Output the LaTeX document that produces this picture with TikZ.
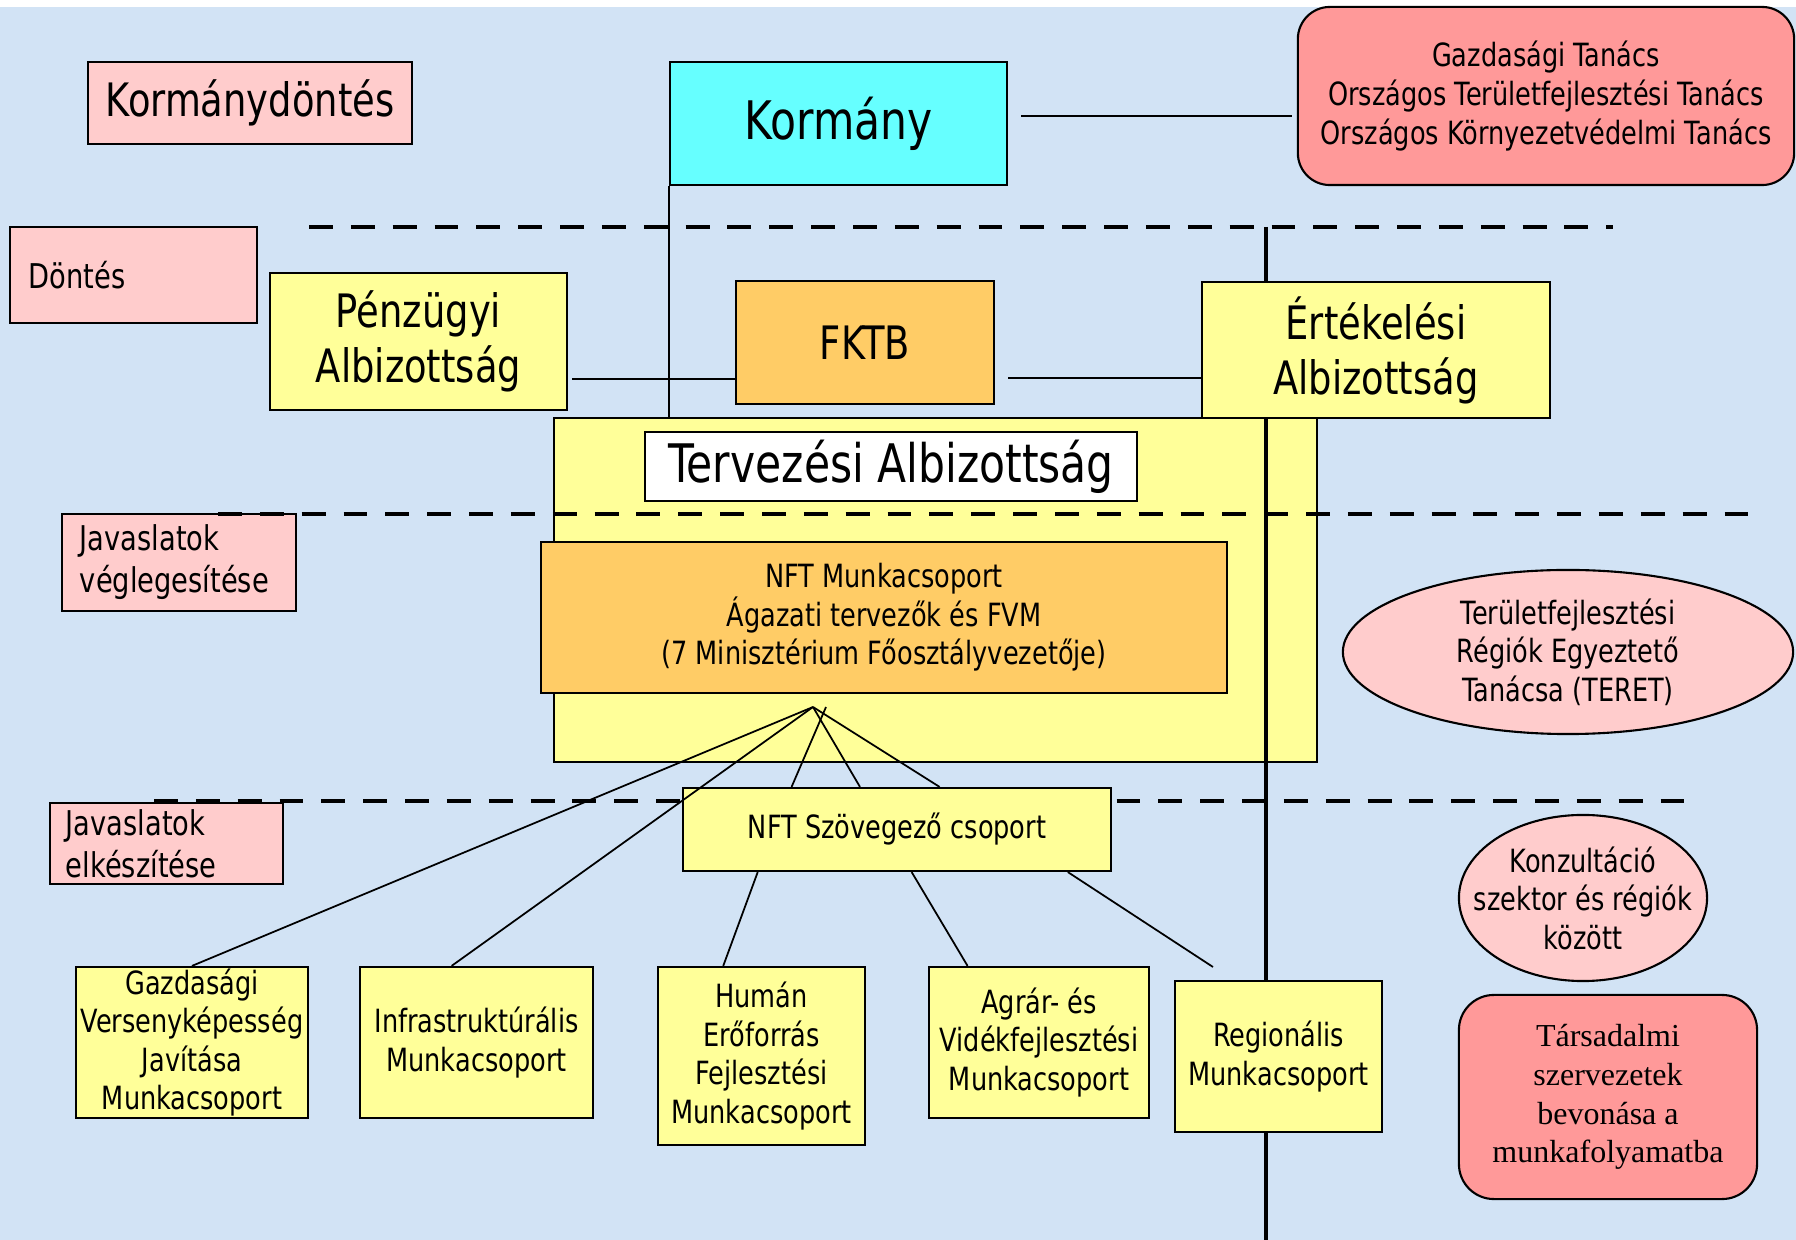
\documentclass[tikz,border=0pt]{standalone}
\usepackage{fontspec}
\setmainfont{DejaVu Sans}[FakeStretch=0.80]
\newfontfamily\timesfam{Liberation Serif}
\usetikzlibrary{shapes.geometric}

\definecolor{bg}{RGB}{210,227,245}
\definecolor{pinkbox}{RGB}{255,204,204}
\definecolor{cyanbox}{RGB}{102,255,255}
\definecolor{redbox}{RGB}{255,153,153}
\definecolor{yellowbox}{RGB}{255,255,153}
\definecolor{orangebox}{RGB}{255,204,102}

\newcommand{\hugefs}{\fontsize{15.1}{18}\selectfont}
\newcommand{\bigfs}{\fontsize{13.1}{15.65}\selectfont}
\newcommand{\midfs}{\fontsize{9.7}{11.95}\selectfont}
\newcommand{\smallfs}{\fontsize{9.1}{10.95}\selectfont}

\begin{document}
\begin{tikzpicture}[x=0.01cm,y=-0.01cm]
		\tikzstyle{box}=[draw,line width=0.6pt,inner sep=0pt,align=center]
		\tikzstyle{sep}=[line width=1.35pt,dash pattern=on 6.8pt off 5.1pt]
		\tikzstyle{link}=[line width=0.5pt]
		\fill[white] (0,0) rectangle (1796,1240);
		\fill[bg] (0,7) rectangle (1796,1240);
		\useasboundingbox (0,0) rectangle (1796,1240);
		% planning committee frame
		\node[box,fill=yellowbox,minimum width=7.63cm,minimum height=3.44cm] (tervbox) at (935.5,590) {};
		\node[box,fill=pinkbox,minimum height=0.97cm,inner xsep=0.18cm,text width=1.98cm,align=left,font=\midfs] (javv) at (179,562.5) {Javaslatok\\véglegesítése};
		\node[box,fill=pinkbox,minimum height=0.81cm,inner xsep=0.16cm,text width=2.01cm,align=left,font=\midfs] (javk) at (166.5,843.5) {Javaslatok\\elkészítése};
		% level separators
		\draw[sep] (309,227) -- (1613,227);
		\draw[sep] (218,514) -- (1754,514);
		\draw[sep] (154,801) -- (1689,801);
		\coordinate (axtop) at (1266,227);
		\coordinate (axbot) at (1266,1240);
		\draw[line width=1.2pt] (axtop) -- (axbot);
		% top levels
		\node[box,fill=pinkbox,minimum width=3.24cm,minimum height=0.82cm,font=\bigfs] (kdont) at (250,103) {Kormánydöntés};
		\node[box,fill=cyanbox,minimum width=3.37cm,minimum height=1.23cm,font=\hugefs] (korm) at (838.5,123.5) {Kormány};
		\node[box,fill=redbox,rounded corners=0.32cm,minimum width=4.96cm,minimum height=1.78cm,font=\fontsize{9.1}{11.1}\selectfont] (tanacs) at (1546,96) {Gazdasági Tanács\\Országos Területfejlesztési Tanács\\Országos Környezetvédelmi Tanács};
		\node[box,fill=pinkbox,minimum height=0.96cm,inner xsep=0.19cm,text width=2.09cm,align=left,font=\midfs] (dont) at (133.5,275) {Döntés};
		\node[box,fill=yellowbox,minimum width=2.97cm,minimum height=1.37cm,font=\bigfs] (penz) at (418.5,341.5) {Pénzügyi\\Albizottság};
		\node[box,fill=orangebox,minimum width=2.58cm,minimum height=1.23cm,font=\bigfs] (fktb) at (865,342.5) {FKTB};
		\node[box,fill=yellowbox,minimum width=3.48cm,minimum height=1.36cm,font=\bigfs] (ert) at (1376,350) {Értékelési\\Albizottság};
		\node[box,fill=white,minimum width=4.92cm,minimum height=0.69cm,font=\hugefs] (terv) at (891,466.5) {Tervezési Albizottság};
		\draw[link] (korm.south west) -- (korm.south west |- tervbox.north);
		\draw[link,shorten <=0.13cm,shorten >=0.05cm] ([yshift=0.075cm]korm.east) -- ([yshift=0.075cm]korm.east -| tanacs.west);
		\draw[link,shorten <=0.04cm] ([yshift=-0.375cm]penz.east) -- ([yshift=-0.375cm]penz.east -| fktb.west);
		\draw[link,shorten <=0.13cm] ([yshift=-0.355cm]fktb.east) -- ([yshift=-0.355cm]fktb.east -| ert.west);
		% working groups
		\node[box,fill=orangebox,minimum width=6.86cm,minimum height=1.51cm,font=\smallfs] (nftm) at (884,617.5) {NFT Munkacsoport\\Ágazati tervezők és FVM\\(7 Minisztérium Főosztályvezetője)};
		\node[ellipse,draw,line width=0.6pt,fill=pinkbox,inner sep=0pt,minimum width=4.5cm,minimum height=1.64cm,align=center,font=\smallfs] (teret) at (1568,652) {Területfejlesztési\\Régiók Egyeztető\\Tanácsa (TERET)};
		\node[box,fill=yellowbox,minimum width=4.28cm,minimum height=0.83cm,font=\smallfs] (szov) at (897,829.5) {NFT Szövegező csoport};
		\node[ellipse,draw,line width=0.6pt,fill=pinkbox,inner ysep=0pt,inner xsep=-0.25cm,minimum width=2.48cm,minimum height=1.66cm,align=center,font=\smallfs] (konz) at (1583,898) {Konzultáció\\szektor és régiók\\között};
		\node[box,fill=yellowbox,minimum width=2.32cm,minimum height=1.51cm,font=\smallfs] (gazd) at (192,1042.5) {Gazdasági\\Versenyképesség\\Javítása\\Munkacsoport};
		\node[box,fill=yellowbox,minimum width=2.33cm,minimum height=1.51cm,font=\smallfs] (infra) at (476.5,1042.5) {Infrastruktúrális\\Munkacsoport};
		\node[box,fill=yellowbox,minimum width=2.07cm,minimum height=1.78cm,font=\smallfs] (human) at (761.5,1056) {Humán\\Erőforrás\\Fejlesztési\\Munkacsoport};
		\node[box,fill=yellowbox,minimum width=2.2cm,minimum height=1.51cm,font=\smallfs] (agrar) at (1039,1042.5) {Agrár- és\\Vidékfejlesztési\\Munkacsoport};
		\node[box,fill=yellowbox,minimum width=2.07cm,minimum height=1.51cm,font=\smallfs] (regio) at (1278.5,1056.5) {Regionális\\Munkacsoport};
		\node[box,fill=redbox,rounded corners=0.35cm,minimum width=2.98cm,minimum height=2.04cm,font=\timesfam\fontsize{9.1}{11}\selectfont] (tars) at (1608,1097) {Társadalmi\\szervezetek\\bevonása a\\munkafolyamatba};
		% fan of links
		\coordinate (fan) at (813,707);
		\coordinate (fan2) at (826,707);
		\coordinate (regend) at (1213,967);
		\draw[link] (fan) -- (gazd.north);
		\draw[link] (fan) -- (infra.108);
		\draw[link] (fan2) -- (szov.158);
		\draw[link] (fan) -- (szov.131);
		\draw[link] (fan) -- (szov.45);
		\draw[link] (szov.197) -- (human.113);
		\draw[link] (szov.289) -- (agrar.133);
		\draw[link] (szov.346) -- (regend);
	\end{tikzpicture}
\end{document}
